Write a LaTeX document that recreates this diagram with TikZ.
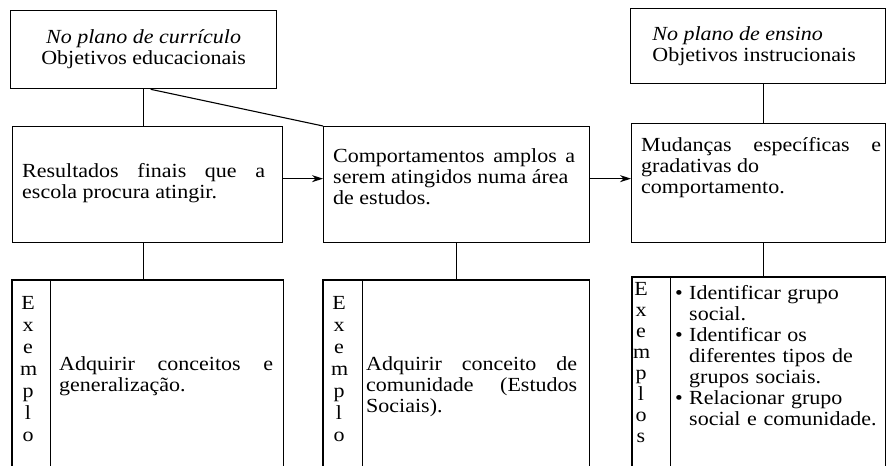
\documentclass[tikz,border=0pt]{standalone}
\usepackage{fontspec}
\setmainfont{Liberation Serif}[FakeStretch=1.1]
\usetikzlibrary{arrows.meta}
\begin{document}
\begin{tikzpicture}[x=1pt,y=-1pt,
  every node/.style={font=\fontsize{20}{21}\selectfont},
  box/.style={draw, line width=1.3pt, inner sep=0pt, anchor=north west},
  openbox/.style={draw=none, inner sep=0pt, anchor=north west},
  txt/.style={inner sep=0pt, anchor=base west, align=justify},
  vert/.style={inner sep=0pt, anchor=base, text width=16pt, align=center, font=\fontsize{20}{22}\selectfont},
  link/.style={line width=1.1pt},
  side/.style={line width=1.3pt},
  divider/.style={line width=0.8pt},
  arr/.style={line width=1.1pt, -{Stealth[length=11pt,width=7pt]}}]
\useasboundingbox (0,0) rectangle (887,466);

% top row
\node[box, minimum width=266pt, minimum height=78pt, align=center] (t1) at (10,10)
  {\textit{No plano de currículo}\\Objetivos educacionais};
\node[box, minimum width=255pt, minimum height=75pt] (t2) at (630,8) {};
\node[inner sep=0pt, align=left] (t2txt) at ([xshift=-4pt]t2.center)
  {\textit{No plano de ensino}\\Objetivos instrucionais};

% middle row
\node[box, minimum width=270pt, minimum height=116pt] (mA) at (12,126) {};
\node[box, minimum width=266pt, minimum height=116pt] (mB) at (323,126) {};
\node[box, minimum width=254pt, minimum height=119pt] (mC) at (631,123) {};

\node[txt, text width=243pt] (tA) at (22,177)
  {Resultados finais que a\linebreak escola procura atingir.};
\node[txt, text width=242pt] (tB) at (333,162)
  {Comportamentos amplos a\linebreak serem atingidos numa área\\de estudos.};
\node[txt, text width=240pt] (tC) at (641,151)
  {Mudanças específicas e\linebreak gradativas do\\comportamento.};

% bottom row (open at the bottom)
\node[openbox, minimum width=271pt, minimum height=195pt] (bA) at (12,280) {};
\node[openbox, minimum width=266pt, minimum height=195pt] (bB) at (323,280) {};
\node[openbox, minimum width=253pt, minimum height=198pt] (bC) at (632,277) {};
\foreach \b in {bA,bB,bC}{
  \draw[side] (\b.south west) -- (\b.north west) -- (\b.north east) -- (\b.south east);
}
\draw[divider] ([xshift=38pt]bA.north west) -- ([xshift=38pt]bA.south west);
\draw[divider] ([xshift=39pt]bB.north west) -- ([xshift=39pt]bB.south west);
\draw[divider] ([xshift=38pt]bC.north west) -- ([xshift=38pt]bC.south west);

\node[vert] (vA) at (28,309) {E\\x\\e\\m\\p\\l\\o};
\node[vert] (vB) at (339,309) {E\\x\\e\\m\\p\\l\\o};
\node[vert, font=\fontsize{20}{21}\selectfont] (vC) at (641,295) {E\\x\\e\\m\\p\\l\\o\\s};

\node[txt, text width=214pt] (eA) at (59,370)
  {Adquirir conceitos e\linebreak generalização.};
\node[txt, text width=211pt] (eB) at (366,370)
  {Adquirir conceito de\linebreak comunidade (Estudos\linebreak Sociais).};
\node[txt, text width=212pt, align=left] (eC) at (675,299)
  {\makebox[14pt][l]{•}Identificar grupo\\
   \hspace*{14pt}social.\\
   \makebox[14pt][l]{•}Identificar os\\
   \hspace*{14pt}diferentes tipos de\\
   \hspace*{14pt}grupos sociais.\\
   \makebox[14pt][l]{•}Relacionar grupo\\
   \hspace*{14pt}social e comunidade.};

% connectors
\draw[link] (t1.south) -- (t1.south |- mA.north);
\draw[link] ([xshift=7pt]t1.south) -- (mB.north west);
\draw[link] ([xshift=5pt]t2.south) -- ([xshift=5pt]t2.south |- mC.north);
\draw[arr] ([yshift=6pt]mA.east) -- ([yshift=6pt]mA.east -| mB.west);
\draw[arr] ([yshift=6pt]mB.east) -- ([yshift=6pt]mB.east -| mC.west);
\draw[link] ([xshift=-4pt]mA.south) -- ([xshift=-4pt]mA.south |- bA.north);
\draw[link] (mB.south) -- (mB.south |- bB.north);
\draw[link] ([xshift=5pt]mC.south) -- ([xshift=5pt]mC.south |- bC.north);
\end{tikzpicture}
\end{document}
